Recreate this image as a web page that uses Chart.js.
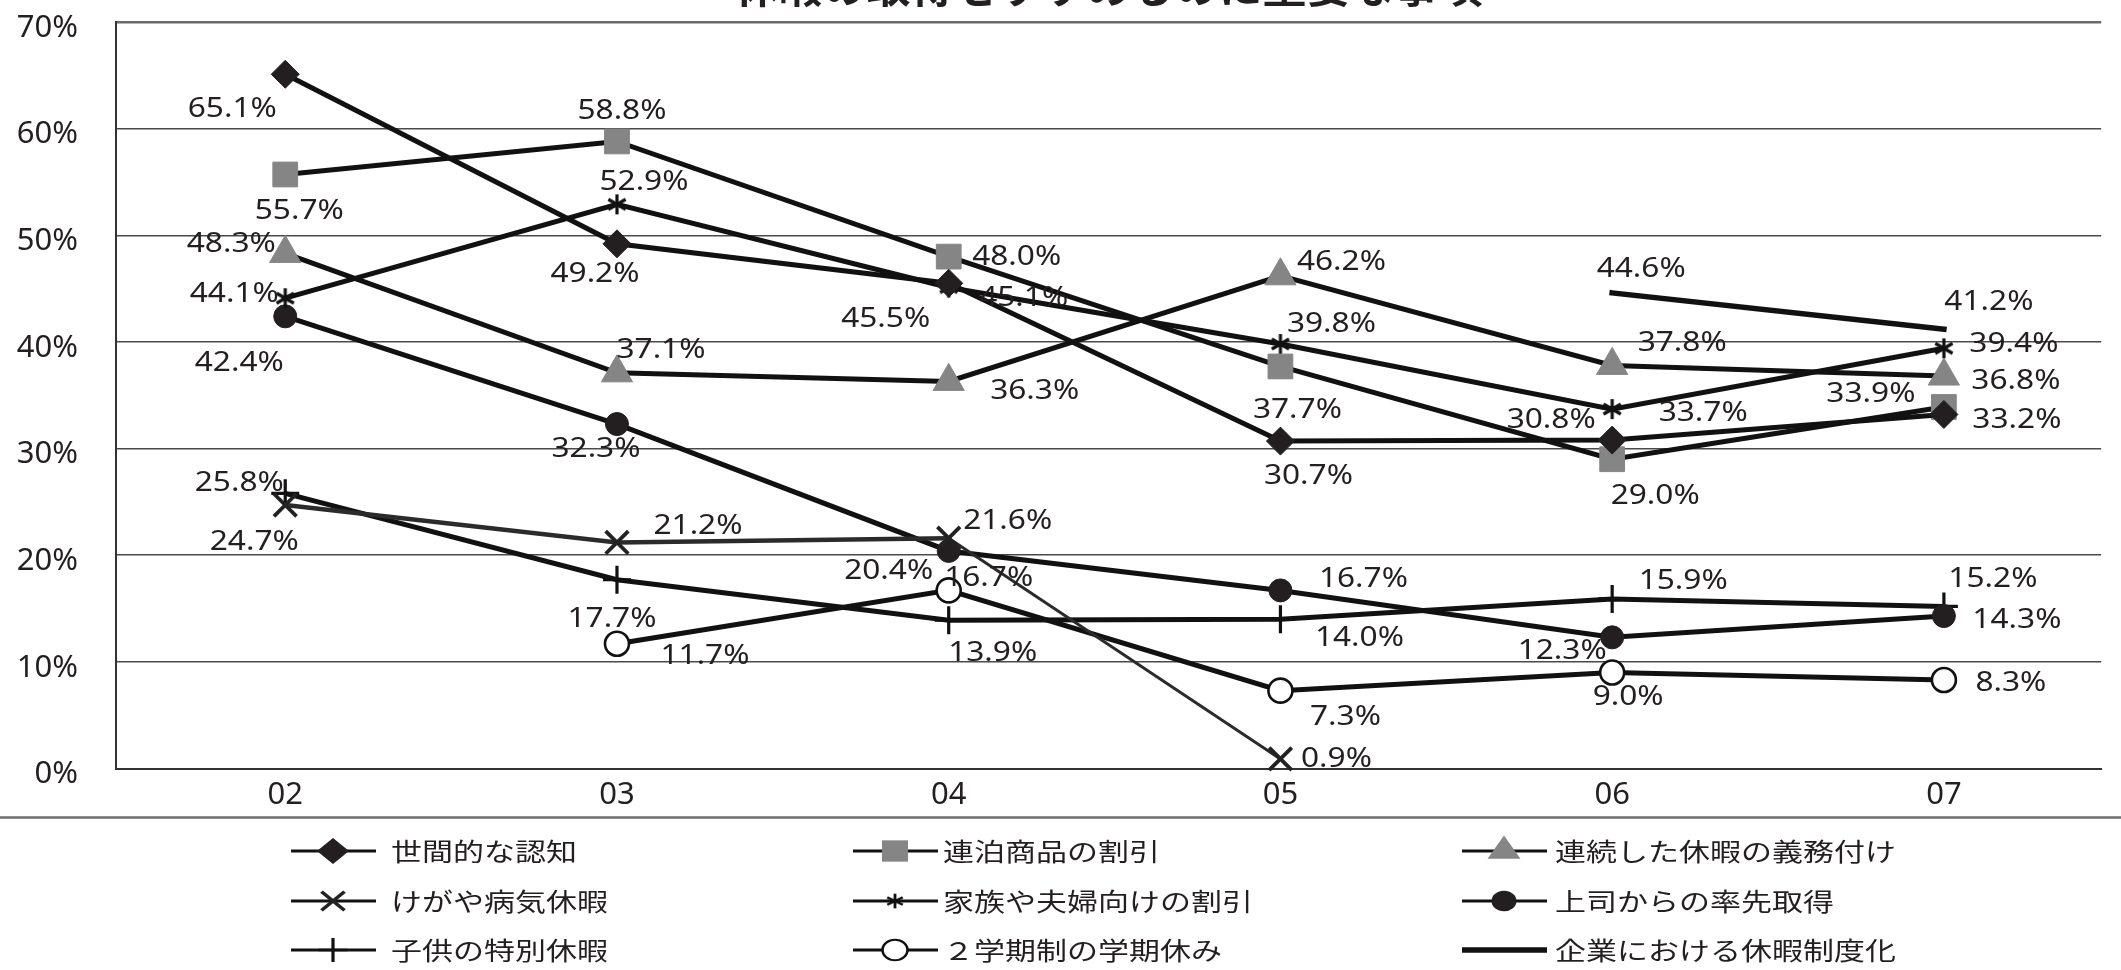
<!DOCTYPE html>
<html lang="ja">
<head>
<meta charset="utf-8">
<title>休暇の取得をすすめるのに重要な事項</title>
<script src="https://cdn.jsdelivr.net/npm/chart.js@4/dist/chart.umd.min.js"></script>
<style>
  html, body { margin: 0; padding: 0; background: #fff; }
  #wrap { width: 2121px; height: 970px; }
</style>
</head>
<body>
<div id="wrap"><canvas id="c" width="2121" height="970"></canvas></div>
<script>
// ---- data ----
const chartTitle = '休暇の取得をすすめるのに重要な事項';
const years = ['02', '03', '04', '05', '06', '07'];
const yTickValues = [0, 10, 20, 30, 40, 50, 60, 70];

const seriesNames = [
  '世間的な認知', '連泊商品の割引', '連続した休暇の義務付け',
  'けがや病気休暇', '家族や夫婦向けの割引', '上司からの率先取得',
  '子供の特別休暇', '２学期制の学期休み', '企業における休暇制度化'
];

const publicAwareness    = [65.1, 49.2, 45.5, 30.7, 30.8, 33.2];
const multiNightDeals    = [55.7, 58.8, 48.0, 37.7, 29.0, 33.9];
const mandatoryLongLeave = [48.3, 37.1, 36.3, 46.2, 37.8, 36.8];
const sickLeave          = [24.7, 21.2, 21.6, 0.9, null, null];
const familyDeals        = [44.1, 52.9, 45.1, 39.8, 33.7, 39.4];
const bossesFirst        = [42.4, 32.3, 20.4, 16.7, 12.3, 14.3];
const childLeave         = [25.8, 17.7, 13.9, 14.0, 15.9, 15.2];
const twoTermBreak       = [null, 11.7, 16.7, 7.3, 9.0, 8.3];
const companyPolicy      = [null, null, null, null, 44.6, 41.2];

const seriesValues = [
  publicAwareness, multiNightDeals, mandatoryLongLeave,
  sickLeave, familyDeals, bossesFirst,
  childLeave, twoTermBreak, companyPolicy
];

// ---- value label placement (offset from each point, px) ----
const labelOffsets = [
  [[-53, 35], [-22, 30], [-63, 36], [28, 35], [-61, -20], [73, 6]],
  [[14, 37], [5, -30], [68, 0], [17, 44], [43, 37], [-73, -13]],
  [[-54, -9], [44, -23], [86, 10], [61, -14], [70, -22], [72, 5]],
  [[-31, 37], [81, -16], [59, -17], [56, 0], null, null],
  [[-51, -4], [27, -22], [75, 10], [51, -20], [91, 4], [70, -4]],
  [[-46, 47], [-21, 25], [-60, 20], [83, -11], [-50, 14], [73, 4]],
  [[-46, -10], [-5, 39], [44, 33], [79, 19], [71, -18], [49, -27]],
  [null, [88, 12], [40, -12], [65, 26], [16, 25], [67, 3]],
  [null, null, null, null, [29, -24], [45, -27]]
];

// ---- styles ----
const INK = '#231f20';
const GRAYMARK = '#858585';

// six-armed asterisk marker
function makeAsterisk(size, lw, color) {
  const c = document.createElement('canvas');
  c.width = size; c.height = size;
  const g = c.getContext('2d');
  g.strokeStyle = color; g.lineWidth = lw; g.lineCap = 'butt';
  const r = size / 2 - 1;
  g.translate(size / 2, size / 2);
  for (let k = 0; k < 3; k++) {
    const a = Math.PI / 2 + k * Math.PI / 3;
    g.beginPath();
    g.moveTo(-Math.cos(a) * r, -Math.sin(a) * r);
    g.lineTo(Math.cos(a) * r, Math.sin(a) * r);
    g.stroke();
  }
  return c;
}
const asteriskMark = makeAsterisk(22, 3.2, '#111');
const asteriskLegend = makeAsterisk(20, 2.8, '#111');

const seriesStyles = [
  { line: '#111', width: 5, point: 'rectRot', r: 14, fill: INK, stroke: INK, bw: 1 },
  { line: '#111', width: 5, point: 'rect', r: 17.5, fill: GRAYMARK, stroke: GRAYMARK, bw: 1 },
  { line: '#111', width: 5, point: 'triangle', r: 18, fill: GRAYMARK, stroke: GRAYMARK, bw: 1 },
  { line: '#2b2b2b', width: 4.5, point: 'crossRot', r: 16, fill: '#222', stroke: '#222', bw: 3.8 },
  { line: '#111', width: 5, point: asteriskMark, r: 11, fill: '#111', stroke: '#111', bw: 0 },
  { line: '#111', width: 5, point: 'circle', r: 11.5, fill: INK, stroke: INK, bw: 1 },
  { line: '#111', width: 5, point: 'cross', r: 14, fill: '#111', stroke: '#111', bw: 3.2 },
  { line: '#111', width: 5, point: 'circle', r: 12, fill: '#fff', stroke: '#111', bw: 2.6 },
  { line: '#111', width: 5.5, point: false, r: 0, fill: '#111', stroke: '#111', bw: 0 }
];
const legendMarks = ['rectRot', 'rect', 'triangle', 'crossRot', 'asterisk', 'circle', 'cross', 'circle', null];

const FONT = '"Noto Sans", "Noto Sans CJK JP", sans-serif';
const JFONT = '"Noto Sans CJK JP", "Noto Sans", sans-serif';

// ---- datasets ----
const datasets = seriesNames.map((name, i) => {
  const s = seriesStyles[i];
  const ds = {
    label: name,
    data: seriesValues[i].map((v, k) => ({ x: k, y: v })),
    borderColor: s.line,
    borderWidth: s.width,
    borderCapStyle: i === 8 ? 'square' : 'butt',
    pointStyle: s.point,
    pointRadius: s.r,
    pointHoverRadius: s.r,
    pointBackgroundColor: s.fill,
    pointBorderColor: s.stroke,
    pointBorderWidth: s.bw,
    tension: 0,
    spanGaps: false,
    fill: false,
    clip: false
  };
  if (i === 3) {
    // the last stretch of this series is drawn with a finer stroke
    ds.segment = { borderWidth: (c) => (c.p0DataIndex === 2 ? 3 : s.width) };
  }
  return ds;
});

// ---- plugins ----
const valueLabels = {
  id: 'valueLabels',
  afterDatasetsDraw(chart) {
    const ctx = chart.ctx;
    ctx.save();
    ctx.font = '28px ' + FONT;
    ctx.fillStyle = INK;
    ctx.textAlign = 'center';
    ctx.textBaseline = 'middle';
    chart.data.datasets.forEach((ds, di) => {
      const meta = chart.getDatasetMeta(di);
      ds.data.forEach((p, i) => {
        const off = labelOffsets[di][i];
        if (p.y == null || !off) return;
        const el = meta.data[i];
        ctx.save();
        ctx.translate(el.x + off[0], el.y + off[1]);
        ctx.scale(1.13, 1);
        ctx.fillText(p.y.toFixed(1) + '%', 0, 0);
        ctx.restore();
      });
    });
    ctx.restore();
  }
};

function drawLegendMark(ctx, kind, x, y, s) {
  ctx.save();
  ctx.translate(x, y);
  ctx.scale(1, 0.82);
  ctx.fillStyle = s.fill;
  ctx.strokeStyle = s.stroke;
  ctx.lineWidth = s.bw || 1;
  ctx.beginPath();
  if (kind === 'rectRot') {
    const r = 16;
    ctx.moveTo(0, -r); ctx.lineTo(r, 0); ctx.lineTo(0, r); ctx.lineTo(-r, 0); ctx.closePath(); ctx.fill();
  } else if (kind === 'rect') {
    const h = 13;
    ctx.rect(-h, -h, 2 * h, 2 * h); ctx.fill();
  } else if (kind === 'triangle') {
    const r = 19;
    ctx.moveTo(0, -r);
    ctx.lineTo(r * Math.sin(2 * Math.PI / 3), -r * Math.cos(2 * Math.PI / 3));
    ctx.lineTo(r * Math.sin(4 * Math.PI / 3), -r * Math.cos(4 * Math.PI / 3));
    ctx.closePath(); ctx.fill();
  } else if (kind === 'crossRot') {
    const d = 11.5;
    ctx.lineWidth = 3.8;
    ctx.moveTo(-d, -d); ctx.lineTo(d, d); ctx.moveTo(d, -d); ctx.lineTo(-d, d); ctx.stroke();
  } else if (kind === 'asterisk') {
    ctx.drawImage(asteriskLegend, -asteriskLegend.width / 2, -asteriskLegend.height / 2);
  } else if (kind === 'circle') {
    ctx.arc(0, 0, 12.5, 0, Math.PI * 2); ctx.fill();
    if (s.fill === '#fff') { ctx.lineWidth = 2.6; ctx.stroke(); }
  } else if (kind === 'cross') {
    const d = 14.5;
    ctx.lineWidth = 3.2;
    ctx.moveTo(-d, 0); ctx.lineTo(d, 0); ctx.moveTo(0, -d); ctx.lineTo(0, d); ctx.stroke();
  }
  ctx.restore();
}

const frameAndLegend = {
  id: 'frameAndLegend',
  afterDraw(chart) {
    const ctx = chart.ctx;
    ctx.save();
    // heading, mostly above the top edge
    ctx.font = 'bold 44px ' + JFONT;
    ctx.fillStyle = INK;
    ctx.textAlign = 'center';
    ctx.textBaseline = 'ideographic';
    ctx.fillText(chartTitle, (chart.chartArea.left + chart.chartArea.right) / 2, 8);

    // separator between plot and legend
    ctx.strokeStyle = '#6e6e6e';
    ctx.lineWidth = 2.5;
    ctx.beginPath(); ctx.moveTo(0, 817.5); ctx.lineTo(2121, 817.5); ctx.stroke();

    // legend: 3 columns x 3 rows
    const lineX = [291, 853, 1462];
    const textX = [391, 943, 1555];
    const rowY = [851, 901, 950];
    chart.data.datasets.forEach((ds, i) => {
      const col = i % 3, row = Math.floor(i / 3);
      const y = rowY[row];
      const s = seriesStyles[i];
      ctx.strokeStyle = '#111';
      ctx.lineWidth = i === 8 ? 5.5 : 3;
      ctx.beginPath(); ctx.moveTo(lineX[col], y); ctx.lineTo(lineX[col] + 85, y); ctx.stroke();
      if (legendMarks[i]) drawLegendMark(ctx, legendMarks[i], lineX[col] + 42, y, s);
      ctx.save();
      ctx.translate(textX[col], y + 1);
      ctx.scale(1, 0.8);
      ctx.font = '31px ' + JFONT;
      ctx.fillStyle = INK;
      ctx.textAlign = 'left';
      ctx.textBaseline = 'middle';
      ctx.fillText(ds.label, 0, 0);
      ctx.restore();
    });
    ctx.restore();
  }
};

// ---- chart ----
Chart.defaults.font.family = FONT;
Chart.defaults.color = INK;

new Chart(document.getElementById('c'), {
  type: 'line',
  data: { datasets },
  options: {
    responsive: false,
    devicePixelRatio: 1,
    animation: false,
    events: [],
    layout: { padding: { top: 22, right: 11, left: 0, bottom: 0 } },
    plugins: { legend: { display: false }, title: { display: false }, tooltip: { enabled: false } },
    scales: {
      x: {
        type: 'linear',
        min: -0.5102,
        max: 5.4742,
        afterBuildTicks(scale) { scale.ticks = years.map((_, i) => ({ value: i })); },
        afterFit(scale) {
          scale.height = 201.5;
          scale.paddingLeft = 0; scale.paddingRight = 0;
        },
        ticks: {
          autoSkip: false,
          maxRotation: 0,
          padding: 8,
          font: { size: 31 },
          color: INK,
          callback: (v) => years[v]
        },
        grid: { display: false, drawTicks: false },
        border: { display: true, color: '#333', width: 2 }
      },
      y: {
        min: 0,
        max: 70,
        afterBuildTicks(scale) { scale.ticks = yTickValues.map(v => ({ value: v })); },
        afterFit(scale) {
          scale.width = 116;
          scale.paddingTop = 0; scale.paddingBottom = 0;
        },
        ticks: {
          padding: 38,
          labelOffset: 6,
          font: { size: 31 },
          color: INK,
          callback: (v) => v + '%'
        },
        grid: {
          drawTicks: false,
          color: (c) => (c.tick && c.tick.value === 70 ? '#6a6a6a' : '#4a4a4a'),
          lineWidth: (c) => (c.tick && c.tick.value === 70 ? 2.5 : 1.5)
        },
        border: { display: true, color: '#333', width: 2 }
      }
    }
  },
  plugins: [valueLabels, frameAndLegend]
});
</script>
</body>
</html>
